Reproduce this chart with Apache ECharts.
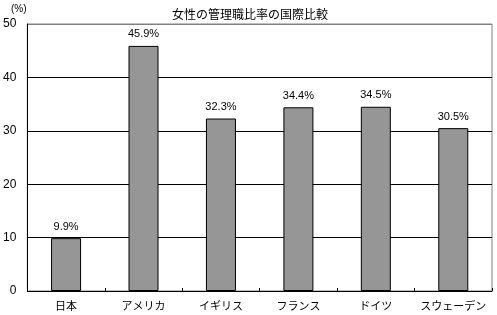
<!DOCTYPE html>
<html><head><meta charset="utf-8">
<script src="https://cdn.jsdelivr.net/npm/echarts@6/dist/echarts.min.js"></script>
<style>html,body{margin:0;padding:0;background:#fff}#c{width:497px;height:315px}</style>
</head><body><div id="c"></div>
<script>
const categories = ['日本','アメリカ','イギリス','フランス','ドイツ','スウェーデン'];
const values = [9.9, 45.9, 32.3, 34.4, 34.5, 30.5];
const yTicks = [0, 10, 20, 30, 40, 50];
const titleText = '女性の管理職比率の国際比較';
const unitText = '(%)';

const chart = echarts.init(document.getElementById('c'), null, {renderer: 'canvas'});
const fontJP = "'Noto Sans CJK JP', sans-serif";
const fontNum = "'Liberation Sans', Arial, sans-serif";
chart.setOption({
  animation: false,
  backgroundColor: '#fff',
  title: {
    text: titleText, left: 245, top: 3, textAlign: 'center',
    textStyle: {fontFamily: fontJP, fontSize: 12, fontWeight: 'normal', color: '#000'}
  },
  graphic: [{
    type: 'text', left: 11, top: 4,
    style: {text: unitText, font: "10px 'Liberation Sans', Arial, sans-serif", fill: '#000'}
  }],
  grid: {left: 25, right: 5, top: 24, bottom: 24, show: true, borderColor: '#808080', borderWidth: 1},
  xAxis: {
    type: 'category', data: categories,
    axisLine: {lineStyle: {color: '#000', width: 1}},
    axisTick: {show: true, inside: true, length: 3, interval: 0, lineStyle: {color: '#000'}},
    axisLabel: {fontFamily: fontJP, fontSize: 11, color: '#000', margin: 9, interval: 0}
  },
  yAxis: {
    type: 'value', min: yTicks[0], max: yTicks[yTicks.length - 1], interval: 10,
    axisLine: {show: true, lineStyle: {color: '#000', width: 1}},
    axisTick: {show: false},
    axisLabel: {fontFamily: fontNum, fontSize: 12, color: '#000', margin: 11},
    splitLine: {show: true, lineStyle: {color: ['#000','#000','#000','#000','#000','#808080'], width: 1}}
  },
  series: [{
    type: 'bar', data: values, barWidth: 30,
    itemStyle: {color: '#969696', borderColor: '#000', borderWidth: 1},
    label: {
      show: true, position: 'top', distance: 6,
      formatter: p => p.value.toFixed(1) + '%',
      fontFamily: fontNum, fontSize: 11, color: '#000'
    }
  }]
});
</script></body></html>
